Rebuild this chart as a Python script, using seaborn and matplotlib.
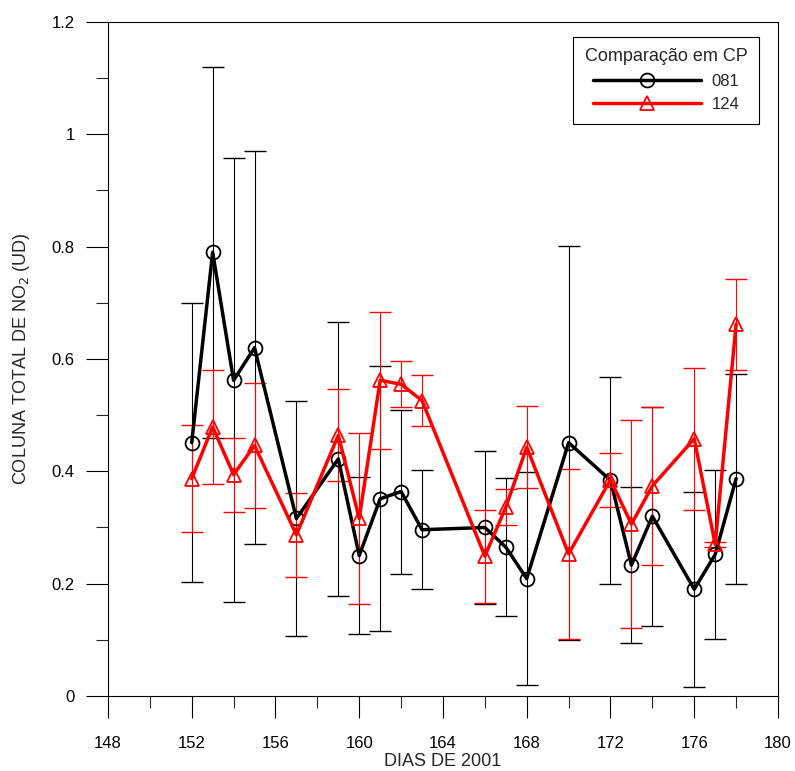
import numpy as np
import pandas as pd
import matplotlib
matplotlib.use("Agg")
import matplotlib.pyplot as plt
from matplotlib.ticker import MultipleLocator, FuncFormatter
import seaborn as sns

# dias do ano (2001)
dias = [152, 153, 154, 155, 157, 159, 160, 161, 162, 163,
        166, 167, 168, 170, 172, 173, 174, 176, 177, 178]

# CP 081
no2_081 = [0.451, 0.790, 0.562, 0.620, 0.316, 0.422, 0.250, 0.351, 0.364, 0.296,
           0.300, 0.265, 0.209, 0.451, 0.384, 0.233, 0.320, 0.190, 0.252, 0.387]
err_081 = [0.248, 0.330, 0.395, 0.350, 0.210, 0.244, 0.140, 0.236, 0.146, 0.106,
           0.137, 0.123, 0.189, 0.351, 0.184, 0.139, 0.195, 0.174, 0.151, 0.187]

# CP 124
no2_124 = [0.387, 0.479, 0.394, 0.446, 0.287, 0.464, 0.316, 0.562, 0.555, 0.526,
           0.249, 0.336, 0.443, 0.253, 0.385, 0.306, 0.374, 0.458, 0.270, 0.662]
err_124 = [0.095, 0.102, 0.066, 0.112, 0.075, 0.082, 0.152, 0.122, 0.041, 0.046,
           0.083, 0.032, 0.073, 0.152, 0.048, 0.185, 0.141, 0.126, 0.005, 0.081]

sns.set_style("ticks")
plt.rcParams["font.family"] = ["Liberation Sans", "DejaVu Sans"]

fig = plt.figure(figsize=(7.95, 7.71), dpi=100)
ax = fig.add_axes([0.1358, 0.0973, 0.8428, 0.8742])

# barras de erro primeiro (atrás das linhas)
ax.errorbar(dias, no2_081, yerr=err_081, fmt="none", ecolor="black",
            elinewidth=0.8, capsize=7.8, capthick=1.0, zorder=1)
ax.errorbar(dias, no2_124, yerr=err_124, fmt="none", ecolor="red",
            elinewidth=0.8, capsize=7.8, capthick=1.0, zorder=1)

sns.lineplot(x=dias, y=no2_081, ax=ax, color="black", lw=2.5,
             marker="o", markersize=10, mfc="none", mec="black", mew=1.3,
             label="081", zorder=3)
sns.lineplot(x=dias, y=no2_124, ax=ax, color="red", lw=2.5,
             marker="^", markersize=10, mfc="none", mec="red", mew=1.3,
             label="124", zorder=4)

ax.set_xlim(148, 180)
ax.set_ylim(0, 1.2)
ax.xaxis.set_major_locator(MultipleLocator(4))
ax.xaxis.set_minor_locator(MultipleLocator(2))
ax.yaxis.set_major_locator(MultipleLocator(0.2))
ax.yaxis.set_minor_locator(MultipleLocator(0.1))
ax.yaxis.set_major_formatter(FuncFormatter(lambda v, p: f"{v:g}"))

ax.tick_params(which="major", direction="out", length=16, width=0.8,
               labelsize=12, colors="black")
ax.tick_params(axis="x", which="major", pad=13)
ax.tick_params(axis="y", which="major", pad=8)
ax.tick_params(which="minor", direction="out", length=8.5, width=0.8)

for s in ax.spines.values():
    s.set_visible(True)
    s.set_color("black")
    s.set_linewidth(0.8)

ax.set_xlabel("DIAS DE 2001", fontsize=13, labelpad=1)
ax.set_ylabel("COLUNA TOTAL DE NO$_2$ (UD)", fontsize=13, labelpad=14)

leg = ax.legend(title="Comparação em CP", loc="upper right",
                bbox_to_anchor=(0.972, 0.978), borderaxespad=0,
                fancybox=False, edgecolor="black", framealpha=1,
                handlelength=6.5, handletextpad=0.6, fontsize=12,
                title_fontsize=13, borderpad=0.7, labelspacing=0.5)
leg.get_frame().set_linewidth(0.8)

fig.savefig("out.png", dpi=100)
